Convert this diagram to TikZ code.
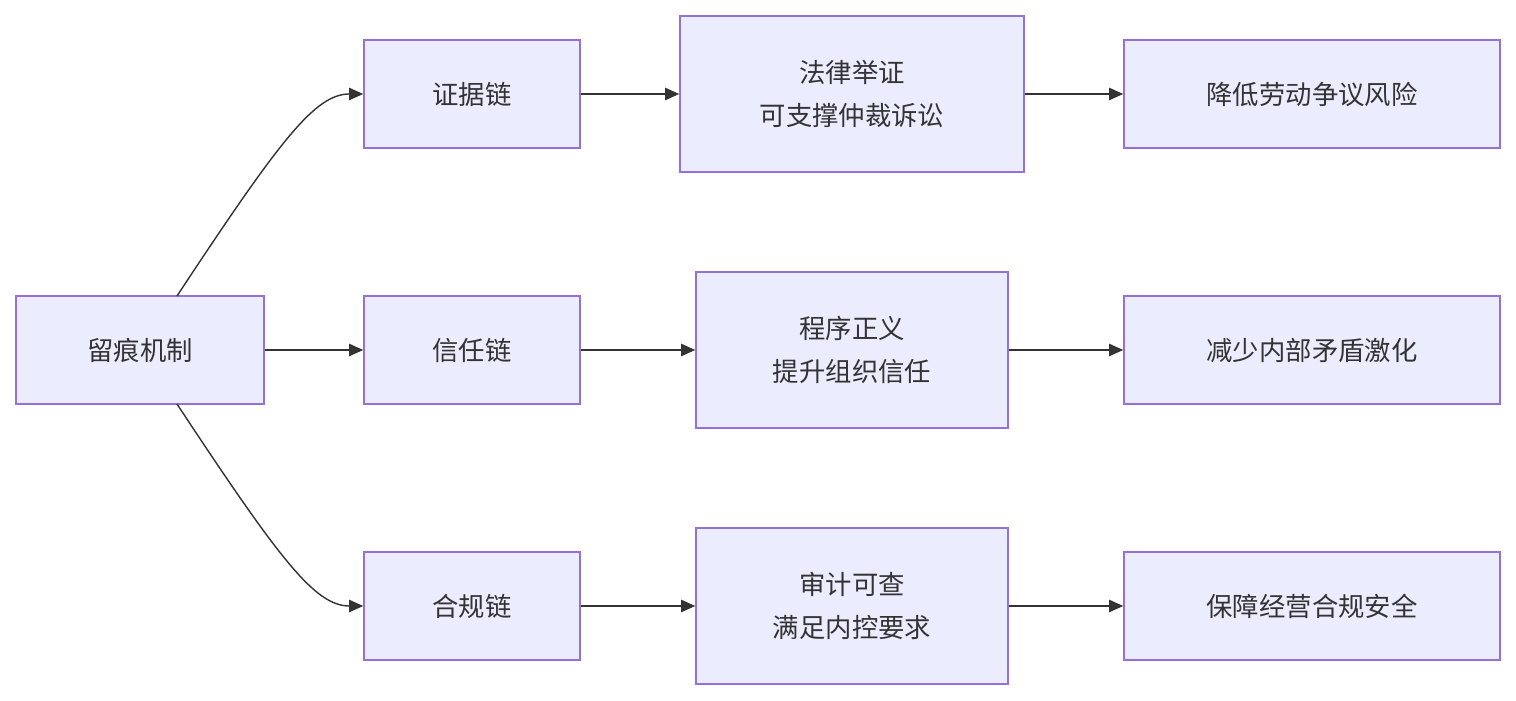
\documentclass[tikz,border=0pt]{standalone}
\usepackage{fontspec}
\setmainfont{Noto Sans CJK SC}
\usetikzlibrary{positioning, arrows.meta}
\definecolor{BoxFill}{HTML}{ECECFF}
\definecolor{BoxLine}{HTML}{9370DB}
\definecolor{EdgeLine}{HTML}{333333}
\tikzset{
    flow box/.style={draw=BoxLine, fill=BoxFill, line width=0.9pt,
        minimum height=2.16cm, align=center, font=\fontsize{15}{24}\selectfont,
        text=EdgeLine, inner sep=0pt},
    flow edge/.style={draw=EdgeLine, line width=0.8pt, -{Triangle[length=8pt,width=7pt]}}
}
\begin{document}
\begin{tikzpicture}
\useasboundingbox (0,0) rectangle (30.32,14);

% Ursprung
\node[flow box, minimum width=4.96cm] (Trace) at (2.8,7) {留痕机制};

% Drei Ketten
\node[flow box, minimum width=4.32cm] (Evidence) at (9.44,12.12) {证据链};
\node[flow box, minimum width=4.32cm] (Trust) at (9.44,7) {信任链};
\node[flow box, minimum width=4.32cm] (Comply) at (9.44,1.88) {合规链};

% Wirkungen
\node[flow box, minimum width=6.88cm, minimum height=3.12cm] (Legal) at (17.04,12.12) {法律举证\\可支撑仲裁诉讼};
\node[flow box, minimum width=6.24cm, minimum height=3.12cm] (Justice) at (17.04,7) {程序正义\\提升组织信任};
\node[flow box, minimum width=6.24cm, minimum height=3.12cm] (Audit) at (17.04,1.88) {审计可查\\满足内控要求};

% Ergebnisse
\node[flow box, minimum width=7.52cm] (RiskLow) at (26.24,12.12) {降低劳动争议风险};
\node[flow box, minimum width=7.52cm] (Conflict) at (26.24,7) {减少内部矛盾激化};
\node[flow box, minimum width=7.52cm] (Safe) at (26.24,1.88) {保障经营合规安全};

% Verbindungen
\coordinate (TraceTop) at (3.54,8.08);
\coordinate (TraceBottom) at (3.54,5.92);
\draw[flow edge] (TraceTop) .. controls (5.6,11.2) and (6.3,12.12) .. (Evidence.west);
\draw[flow edge] (Trace) -- (Trust);
\draw[flow edge] (TraceBottom) .. controls (5.6,2.8) and (6.3,1.88) .. (Comply.west);
\draw[flow edge] (Evidence) -- (Legal);
\draw[flow edge] (Trust) -- (Justice);
\draw[flow edge] (Comply) -- (Audit);
\draw[flow edge] (Legal) -- (RiskLow);
\draw[flow edge] (Justice) -- (Conflict);
\draw[flow edge] (Audit) -- (Safe);

\end{tikzpicture}
\end{document}
